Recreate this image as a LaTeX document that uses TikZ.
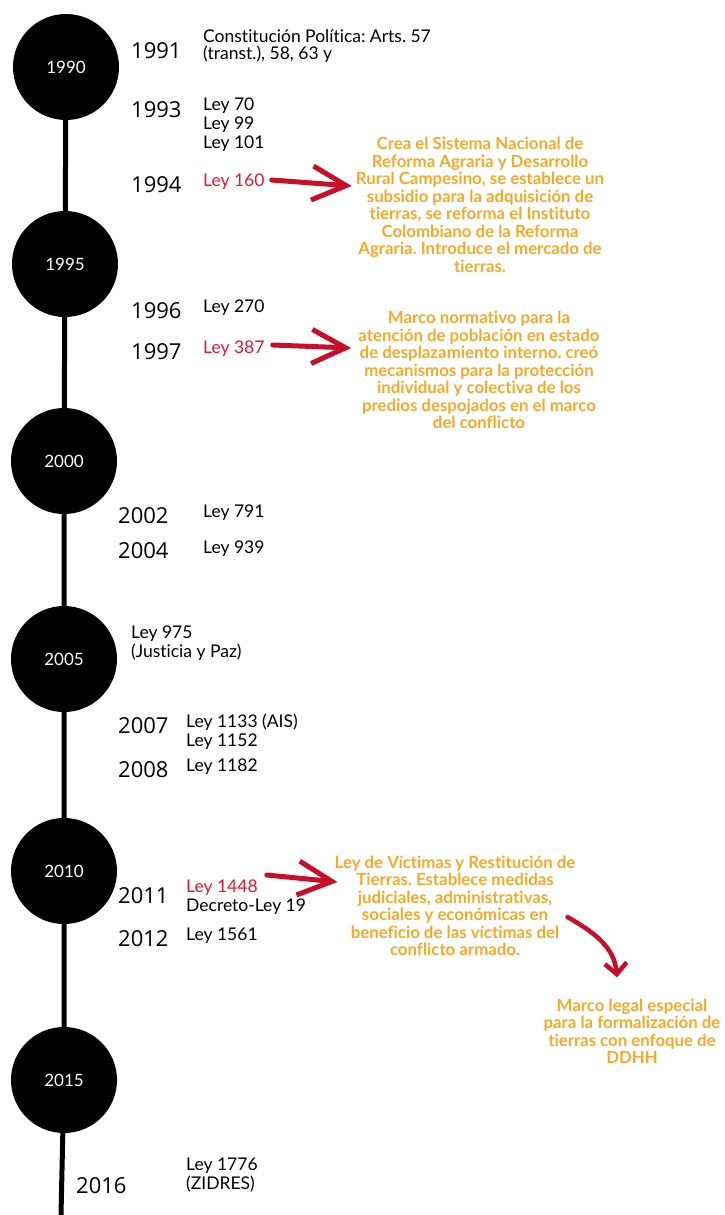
\documentclass[tikz,border=0pt]{standalone}
\usepackage{fontspec}
\setmainfont{Lato}[Ligatures = NoCommon]
\newfontfamily\yearfont{Open Sans}
\usetikzlibrary{arrows.meta}
\frenchspacing

\definecolor{naranja}{RGB}{247,168,40}
\definecolor{rojoley}{RGB}{222,24,52}
\definecolor{rojoflecha}{RGB}{200,14,40}

\tikzset{
  hito/.style = {circle, fill = black, minimum size = 106pt, inner sep = 0pt, text = white, font = \fontsize{17}{19}\selectfont},
  linea/.style = {line width = 5pt},
  anio/.style = {anchor = west, inner sep = 0pt, font = \yearfont\fontsize{22}{24}\selectfont},
  ley/.style = {anchor = west, inner sep = 0pt, align = left, font = \fontsize{17.5}{19}\selectfont},
  desc/.style = {inner sep = 0pt, align = center, text = naranja, font = \bfseries\fontsize{16.8}{17.5}\selectfont},
  flecha/.style = {rojoflecha, line width = 5pt, line cap = round, -{Straight Barb[length = 34pt, width = 34pt]}},
  flechita/.style = {rojoflecha, line width = 4.5pt, line cap = round, -{Straight Barb[length = 11pt, width = 22pt]}}
}

\begin{document}
\begin{tikzpicture}[x = 1pt, y = -1pt]
\useasboundingbox (0,0) rectangle (725,1215);

%% la linea del tiempo
\node[hito] (c1990) at (66,67) {1990};
\node[hito] (c1995) at (65,264) {1995};
\node[hito] (c2000) at (64,461) {2000};
\node[hito] (c2005) at (64,659) {2005};
\node[hito] (c2010) at (64,871) {2010};
\node[hito] (c2015) at (64,1080) {2015};
\coordinate (fin) at (61,1215);
\draw[linea] (c1990) -- (c1995) -- (c2000) -- (c2005) -- (c2010) -- (c2015) -- (fin);

%% anios
\node[anio] (a1991) at (131,51) {1991};
\node[anio] (a1993) at (131,110) {1993};
\node[anio] (a1994) at (131,185) {1994};
\node[anio] (a1996) at (131,311) {1996};
\node[anio] (a1997) at (131,352) {1997};
\node[anio] (a2002) at (118,516) {2002};
\node[anio] (a2004) at (118,551) {2004};
\node[anio] (a2007) at (118,726) {2007};
\node[anio] (a2008) at (118,770) {2008};
\node[anio] (a2011) at (118,896) {2011};
\node[anio] (a2012) at (118,939) {2012};
\node[anio] (a2016) at (76,1186) {2016};

%% leyes
\node[ley] (l1991) at (203,46) {Constitución Política: Arts. 57\\[-2pt](transt.), 58, 63 y};
\node[ley] (l1993) at (203,125) {Ley 70\\Ley 99\\Ley 101};
\node[ley, text = rojoley] (l160) at (203,182) {Ley 160};
\node[ley] (l270) at (203,308) {Ley 270};
\node[ley, text = rojoley] (l387) at (203,349) {Ley 387};
\node[ley] (l791) at (203,513) {Ley 791};
\node[ley] (l939) at (203,549) {Ley 939};
\node[ley] (l975) at (131,643) {Ley 975\\(Justicia y Paz)};
\node[ley] (l1133) at (186,732) {Ley 1133 (AIS)\\Ley 1152};
\node[ley] (l1182) at (186,767) {Ley 1182};
\node[ley, text = rojoley] (l1448) at (186,888) {Ley 1448};
\node[ley] (ld19) at (186,907) {Decreto-Ley 19};
\node[ley] (l1561) at (186,936) {Ley 1561};
\node[ley] (l1776) at (186,1175) {Ley 1776\\(ZIDRES)};

%% descripciones
\node[desc] (d160) at (480,205) {Crea el Sistema Nacional de\\Reforma Agraria y Desarrollo\\Rural Campesino, se establece un\\subsidio para la adquisición de\\tierras, se reforma el Instituto\\Colombiano de la Reforma\\Agraria. Introduce el mercado de\\tierras.};
\node[desc] (d387) at (479,370) {Marco normativo para la\\atención de población en estado\\de desplazamiento interno. creó\\mecanismos para la protección\\individual y colectiva de los\\predios despojados en el marco\\del conflicto};
\node[desc] (d1448) at (455,906) {Ley de Víctimas y Restitución de\\Tierras. Establece medidas\\judiciales, administrativas,\\sociales y económicas en\\beneficio de las víctimas del\\conflicto armado.};
\node[desc] (dddhh) at (632,1031) {Marco legal especial\\para la formalización de\\tierras con enfoque de\\DDHH};

%% flechas
\draw[flecha] ([xshift = 7pt, yshift = 2pt]l160.east) -- ([xshift = -4pt, yshift = 19pt]d160.west);
\draw[flecha] ([xshift = 8pt, yshift = 4pt]l387.east) -- ([xshift = -7pt, yshift = 22pt]d387.west);
\draw[flecha] ([xshift = 9pt, yshift = 13pt]l1448.east) -- ([xshift = 3pt, yshift = 24pt]d1448.west);
\draw[flechita] ([xshift = -8pt, yshift = -11pt]d1448.east) to[out = -30, in = 95] ([xshift = -15pt, yshift = 21pt]dddhh.north);
\end{tikzpicture}
\end{document}
